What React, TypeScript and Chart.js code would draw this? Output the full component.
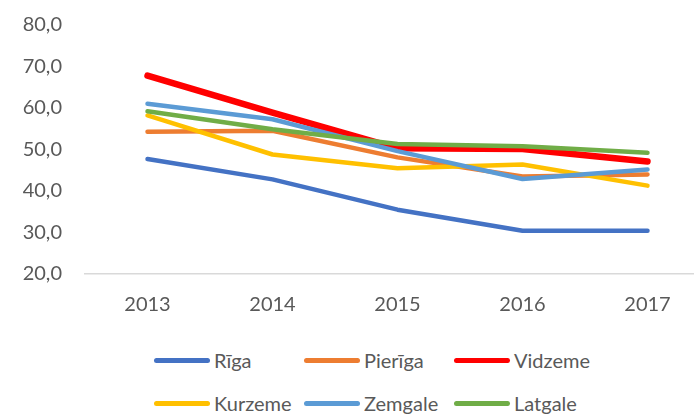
import React, { useEffect, useRef } from "react";
import { Chart, registerables } from "chart.js";

Chart.register(...registerables);

const years = ["2013", "2014", "2015", "2016", "2017"];
const seriesNames = ["Rīga", "Pierīga", "Vidzeme", "Kurzeme", "Zemgale", "Latgale"];
const riga = [47.7, 42.8, 35.5, 30.4, 30.4];
const pieriga = [54.3, 54.5, 48.1, 43.5, 44.0];
const vidzeme = [67.8, 58.9, 50.3, 50.1, 47.1];
const kurzeme = [58.2, 48.8, 45.5, 46.4, 41.3];
const zemgale = [61.0, 57.3, 49.6, 42.9, 45.2];
const latgale = [59.2, 54.9, 51.3, 50.8, 49.2];
const seriesValues = [riga, pieriga, vidzeme, kurzeme, zemgale, latgale];
const seriesColors = ["#4472C4", "#ED7D31", "#FF0000", "#FFC000", "#5B9BD5", "#70AD47"];
const seriesWidths = [4.5, 4.5, 6.5, 4.5, 4.5, 4.5];

const FONT = "Lato, 'Open Sans', sans-serif";
const TEXT = "#595959";

export default function App() {
  const ref = useRef<HTMLCanvasElement | null>(null);

  useEffect(() => {
    if (!ref.current) return;
    const chart = new Chart(ref.current, {
      type: "line",
      data: {
        labels: years,
        datasets: seriesNames.map((name, i) => ({
          label: name,
          data: seriesValues[i],
          borderColor: seriesColors[i],
          backgroundColor: seriesColors[i],
          borderWidth: seriesWidths[i],
          borderCapStyle: "round",
          borderJoinStyle: "round",
          pointRadius: 0,
          pointHoverRadius: 0,
          tension: 0,
          fill: false,
          order: seriesNames.length - i,
        })),
      },
      options: {
        animation: false,
        responsive: false,
        maintainAspectRatio: false,
        layout: { padding: { top: 25, right: 10, bottom: 0, left: 0 } },
        plugins: { legend: { display: false }, tooltip: { enabled: false } },
        scales: {
          x: {
            offset: true,
            grid: { display: false, drawTicks: false },
            border: { display: true, color: "#D9D9D9", width: 1.5 },
            ticks: { color: TEXT, font: { family: FONT, size: 20 }, padding: 19 },
            afterFit: (s: any) => {
              s.height = 56;
              s.paddingLeft = 0;
              s.paddingRight = 0;
            },
          },
          y: {
            min: 20,
            max: 80,
            grid: { display: false, drawTicks: false },
            border: { display: false },
            ticks: {
              stepSize: 10,
              color: TEXT,
              padding: 23,
              font: { family: FONT, size: 20 },
              callback: (v: any) => Number(v).toFixed(1).replace(".", ","),
            },
            afterFit: (s: any) => {
              s.width = 85;
              s.paddingTop = 0;
              s.paddingBottom = 0;
            },
          },
        },
      },
    });
    return () => chart.destroy();
  }, []);

  const cols = [154, 304, 454];
  const rows = [360, 403];

  return (
    <div
      style={{
        position: "absolute",
        left: 0,
        top: 0,
        width: 694,
        height: 414,
        overflow: "hidden",
        background: "#fff",
      }}
    >
      <canvas ref={ref} width={720} height={330} style={{ position: "absolute", left: 0, top: 0 }} />
      {seriesNames.map((name, i) => (
        <div
          key={name}
          style={{
            position: "absolute",
            left: cols[i % 3],
            top: rows[Math.floor(i / 3)] - 15,
            height: 30,
            display: "flex",
            alignItems: "center",
            fontFamily: FONT,
            fontSize: 20,
            color: TEXT,
            whiteSpace: "nowrap",
          }}
        >
          <span
            style={{
              display: "inline-block",
              width: 56,
              height: 5,
              borderRadius: 3,
              background: seriesColors[i],
              marginRight: 4,
            }}
          />
          <span>{name}</span>
        </div>
      ))}
    </div>
  );
}
